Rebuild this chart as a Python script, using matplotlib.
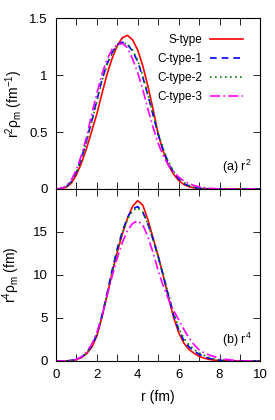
import matplotlib
matplotlib.use("Agg")
import matplotlib.pyplot as plt
from matplotlib.ticker import MultipleLocator
import numpy as np

plt.rcParams['font.family'] = ['Liberation Sans', 'DejaVu Sans']
plt.rcParams['mathtext.fontset'] = 'custom'
plt.rcParams['mathtext.rm'] = 'Liberation Sans'
plt.rcParams['mathtext.it'] = 'Liberation Sans'

# radial grid (fm)
r = np.linspace(0, 10, 41)

# (a) r^2 rho_m (fm^-1)
s_r2 = [0.000, 0.003, 0.015, 0.05, 0.125, 0.23, 0.36, 0.51, 0.66, 0.84, 1.01, 1.15, 1.26,
        1.33, 1.35, 1.31, 1.22, 1.08, 0.90, 0.70, 0.48, 0.33, 0.21, 0.13, 0.075, 0.04,
        0.02, 0.01, 0.005, 0.002, 0.001, 0, 0, 0, 0, 0, 0, 0, 0, 0, 0]
c1_r2 = [0.000, 0.004, 0.02, 0.065, 0.15, 0.27, 0.43, 0.60, 0.78, 0.96, 1.10, 1.20, 1.27,
         1.29, 1.27, 1.21, 1.12, 0.98, 0.82, 0.65, 0.48, 0.34, 0.23, 0.145, 0.09, 0.05,
         0.027, 0.014, 0.007, 0.003, 0.001, 0, 0, 0, 0, 0, 0, 0, 0, 0, 0]
c2_r2 = [0.000, 0.004, 0.02, 0.063, 0.145, 0.265, 0.42, 0.59, 0.77, 0.95, 1.09, 1.19, 1.26,
         1.285, 1.275, 1.22, 1.13, 0.99, 0.83, 0.66, 0.49, 0.35, 0.24, 0.155, 0.095, 0.056,
         0.032, 0.017, 0.009, 0.004, 0.002, 0.001, 0, 0, 0, 0, 0, 0, 0, 0, 0]
c3_r2 = [0.000, 0.005, 0.025, 0.08, 0.17, 0.30, 0.46, 0.66, 0.84, 1.01, 1.14, 1.23, 1.27,
         1.28, 1.24, 1.14, 1.02, 0.87, 0.70, 0.54, 0.40, 0.29, 0.21, 0.15, 0.105, 0.072,
         0.048, 0.031, 0.019, 0.012, 0.007, 0.004, 0.002, 0.001, 0, 0, 0, 0, 0, 0, 0]

# (b) r^4 rho_m (fm)
s_r4 = [0, 0, 0.01, 0.05, 0.15, 0.4, 0.85, 1.6, 2.9, 5.1, 7.6, 10.3, 12.7, 14.8, 16.6,
        18.0, 18.65, 18.1, 16.4, 14.3, 12.2, 9.9, 7.4, 5.1, 3.3, 2.1, 1.35, 0.9, 0.55,
        0.32, 0.18, 0.1, 0.05, 0.02, 0.01, 0, 0, 0, 0, 0, 0]
c1_r4 = [0, 0, 0.01, 0.06, 0.18, 0.45, 0.95, 1.8, 3.1, 5.3, 7.9, 10.6, 13.1, 15.1, 16.7,
         17.7, 17.95, 17.3, 15.9, 14.1, 12.1, 9.9, 7.6, 5.4, 3.6, 2.4, 1.65, 1.15, 0.8,
         0.5, 0.3, 0.17, 0.09, 0.04, 0.02, 0.01, 0, 0, 0, 0, 0]
c2_r4 = [0, 0, 0.01, 0.06, 0.18, 0.45, 0.95, 1.8, 3.1, 5.2, 7.8, 10.4, 12.9, 14.9, 16.5,
         17.5, 17.8, 17.3, 15.9, 14.1, 12.1, 10.0, 7.8, 5.7, 3.8, 2.65, 1.9, 1.35, 0.95,
         0.65, 0.4, 0.25, 0.14, 0.07, 0.03, 0.01, 0, 0, 0, 0, 0]
c3_r4 = [0, 0, 0.01, 0.07, 0.2, 0.5, 1.05, 1.95, 3.3, 5.3, 7.6, 9.9, 12.0, 13.8, 15.2,
         16.0, 16.3, 15.8, 14.4, 12.6, 10.5, 8.7, 7.2, 5.9, 4.8, 3.7, 2.7, 1.9, 1.3,
         0.95, 0.7, 0.5, 0.35, 0.22, 0.13, 0.07, 0.03, 0.01, 0, 0, 0]

labels = ['S-type', 'C-type-1', 'C-type-2', 'C-type-3']
colors = ['#ff0000', '#0000ff', '#008000', '#ff00ff']
dashes = [(None, None), (4, 3), (1, 2), (6, 2, 1, 2)]

fs = 9.5
fig = plt.figure(figsize=(2.75, 4.2), dpi=100)
ax1 = fig.add_axes([0.2036, 0.55, 0.7434, 0.4064])
ax2 = fig.add_axes([0.2036, 0.1405, 0.7434, 0.4095])

for ax, data in [(ax1, [s_r2, c1_r2, c2_r2, c3_r2]), (ax2, [s_r4, c1_r4, c2_r4, c3_r4])]:
    for y, lab, c, d in zip(data, labels, colors, dashes):
        line, = ax.plot(r, y, color=c, lw=1.2, label=lab)
        if d[0] is not None:
            line.set_dashes(d)
    ax.set_xlim(0, 10)
    ax.xaxis.set_major_locator(MultipleLocator(2))
    ax.xaxis.set_minor_locator(MultipleLocator(1))
    ax.tick_params(which='both', direction='in', top=True, right=True,
                   length=5, width=0.6, labelsize=fs, pad=6)
    for sp in ax.spines.values():
        sp.set_linewidth(0.8)

ax1.set_ylim(0, 1.5)
ax1.set_yticks([0, 0.5, 1, 1.5])
ax1.set_yticklabels(['0', '0.5', '1', '1.5'])
ax1.tick_params(labelbottom=False)
ax1.set_ylabel(r'r$^2$ρ$_\mathrm{m}$ (fm$^{-1}$)', fontsize=10, labelpad=3)
ax1.text(0.955, 0.13, r'(a) r$^2$', transform=ax1.transAxes, ha='right', va='center', fontsize=9)
ax1.legend(loc='upper right', bbox_to_anchor=(0.965, 0.97), frameon=False, markerfirst=False,
           fontsize=8.5, handlelength=2.8, handletextpad=0.6, labelspacing=0.6)

ax2.set_ylim(0, 20)
ax2.set_yticks([0, 5, 10, 15])
ax2.set_xticks([0, 2, 4, 6, 8, 10])
ax2.set_ylabel(r'r$^4$ρ$_\mathrm{m}$ (fm)', fontsize=10, labelpad=8)
ax2.set_xlabel('r (fm)', fontsize=10, labelpad=6)
ax2.text(0.955, 0.125, r'(b) r$^4$', transform=ax2.transAxes, ha='right', va='center', fontsize=9)

fig.savefig('out.png', dpi=100)
